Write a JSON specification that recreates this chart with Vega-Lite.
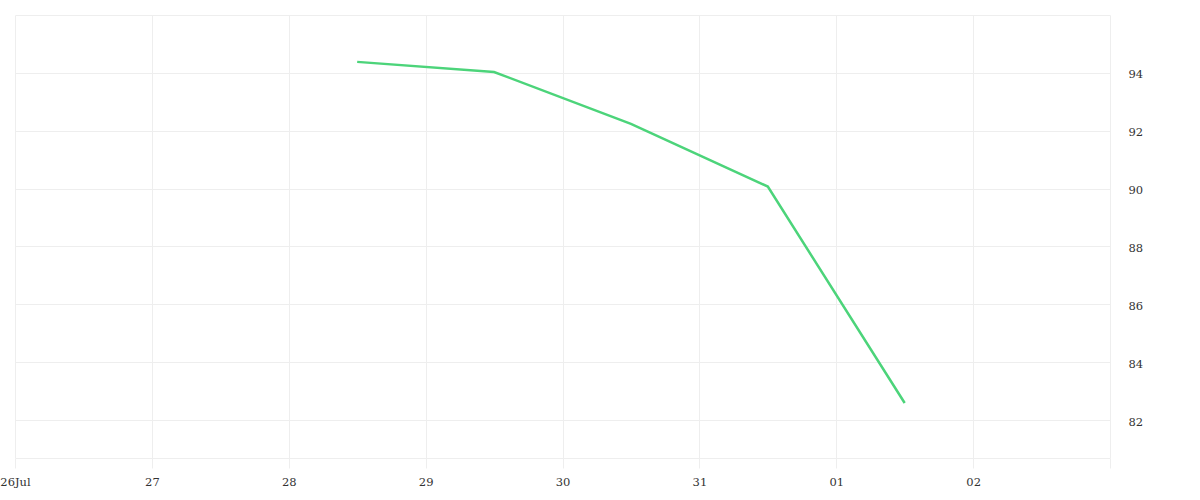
{
  "$schema": "https://vega.github.io/schema/vega-lite/v6.json",
  "autosize": {"type": "none"},
  "padding": {"left": 15, "top": 15, "right": 90, "bottom": 42},
  "width": 1095,
  "height": 443,
  "config": {
    "view": {"stroke": null},
    "font": "DejaVu Serif",
    "axis": {"labelFont": "DejaVu Serif", "labelFontSize": 11.5, "labelColor": "#333", "gridColor": "#eeeeee", "gridWidth": 1}
  },
  "data": {
    "values": [
      {"date": "2023-07-28T12:00:00", "value": 94.38},
      {"date": "2023-07-29T12:00:00", "value": 94.03},
      {"date": "2023-07-30T12:00:00", "value": 92.24},
      {"date": "2023-07-31T12:00:00", "value": 90.07},
      {"date": "2023-08-01T12:00:00", "value": 82.59}
    ]
  },
  "mark": {"type": "line", "color": "#4cd47a", "strokeWidth": 2.5},
  "encoding": {
    "x": {
      "field": "date",
      "type": "temporal",
      "scale": {"domain": ["2023-07-26T00:00:00", "2023-08-03T00:00:00"]},
      "axis": {
        "title": null,
        "values": ["2023-07-26T00:00:00", "2023-07-27T00:00:00", "2023-07-28T00:00:00", "2023-07-29T00:00:00", "2023-07-30T00:00:00", "2023-07-31T00:00:00", "2023-08-01T00:00:00", "2023-08-02T00:00:00", "2023-08-03T00:00:00"],
        "labelExpr": "datum.index == 0 ? timeFormat(datum.value, '%d%b') : (datum.index == 1 ? '' : timeFormat(datum.value, '%d'))",
        "labelOverlap": false,
        "labelPadding": 8,
        "tickColor": "#eeeeee",
        "tickSize": 10,
        "domainColor": "#eeeeee",
        "labelFlush": false
      }
    },
    "y": {
      "field": "value",
      "type": "quantitative",
      "scale": {"domain": [80.69, 96], "nice": false, "zero": false},
      "axis": {
        "orient": "right",
        "title": null,
        "values": [82, 84, 86, 88, 90, 92, 94, 96],
        "labelExpr": "datum.value == 96 ? '' : datum.label",
        "ticks": false,
        "domain": false,
        "labelPadding": 18,
        "labelOffset": 2
      }
    }
  }
}
